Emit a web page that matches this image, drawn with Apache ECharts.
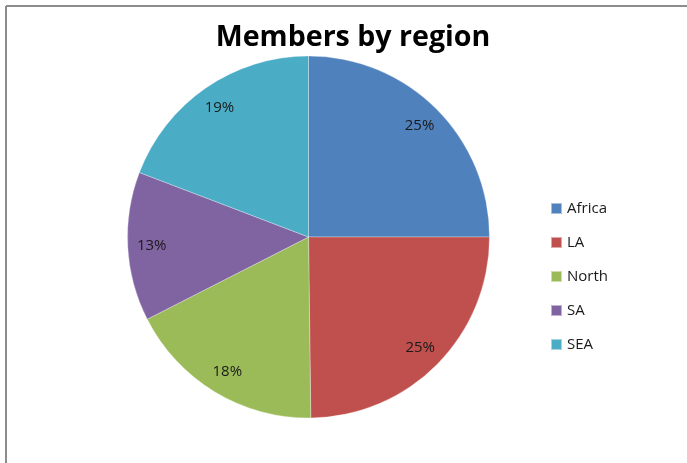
<!DOCTYPE html>
<html>
<head>
<meta charset="utf-8">
<script src="https://cdn.jsdelivr.net/npm/echarts@6/dist/echarts.min.js"></script>
<style>
html, body { margin: 0; padding: 0; background: #fff; }
#chart { width: 687px; height: 463px; }
</style>
</head>
<body>
<div id="chart"></div>
<script>
var regions = ['Africa', 'LA', 'North', 'SA', 'SEA'];
var shares = [25, 24.8, 17.7, 13.3, 19.2];
var colors = ['#4F81BD', '#C0504D', '#9BBB59', '#8064A2', '#4BACC6'];

var pieData = [];
for( var i = 0; i < regions.length; i++ ){
	pieData.push( {name: regions[i], value: shares[i], itemStyle: {color: colors[i]}} );
}

var chart = echarts.init( document.getElementById( 'chart' ) );
chart.setOption( {
	animation: false,
	title: {
		text: 'Members by region',
		left: 348,
		top: 18,
		textAlign: 'center',
		textStyle: {fontFamily: 'Open Sans', fontWeight: 'bold', fontSize: 28.6, color: '#000'}
	},
	legend: {
		orient: 'vertical',
		left: 545,
		top: 196,
		itemWidth: 11,
		itemHeight: 11,
		itemGap: 19,
		icon: 'rect',
		textStyle: {fontFamily: 'Open Sans', fontSize: 15, color: '#1a1a1a', padding: [0, 0, 0, 0]},
		data: regions
	},
	graphic: [
		{type: 'line', shape: {x1: 6, y1: 6, x2: 687, y2: 6}, style: {stroke: '#8c8c8c', lineWidth: 2}},
		{type: 'line', shape: {x1: 6, y1: 6, x2: 6, y2: 463}, style: {stroke: '#8c8c8c', lineWidth: 2}}
	],
	series: [
		{
			type: 'pie',
			center: [308.5, 237],
			radius: [0, 181],
			startAngle: 90,
			clockwise: true,
			silent: true,
			label: {show: false},
			labelLine: {show: false},
			itemStyle: {borderColor: 'rgba(255,255,255,0.5)', borderWidth: 0.6},
			data: pieData
		},
		{
			type: 'pie',
			center: [308.5, 237],
			radius: [124, 184],
			startAngle: 90,
			clockwise: true,
			silent: true,
			legendHoverLink: false,
			itemStyle: {color: 'rgba(0,0,0,0)', borderWidth: 0},
			label: {
				show: true,
				position: 'inside',
				fontFamily: 'Open Sans',
				fontSize: 15,
				color: '#1a1a1a',
				formatter: function(p){ return Math.round( p.percent ) + '%'; }
			},
			labelLine: {show: false},
			data: regions.map( function(r, i){ return {name: r + ' ', value: shares[i]}; } )
		}
	]
} );
</script>
</body>
</html>
